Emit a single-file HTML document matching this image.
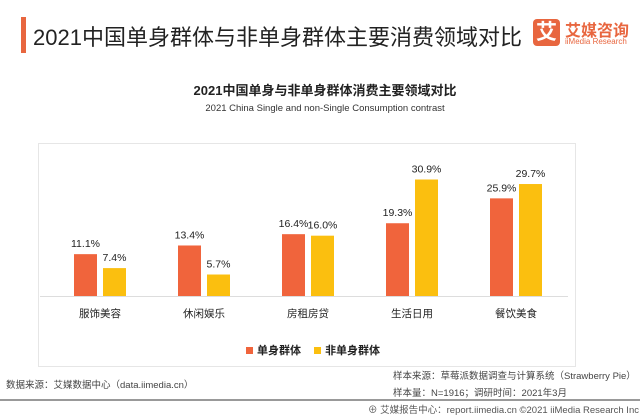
<!DOCTYPE html>
<html><head><meta charset="utf-8"><style>
body{margin:0;width:640px;height:415px;background:#fff;font-family:"Liberation Sans","Noto Sans CJK SC",sans-serif;position:relative;overflow:hidden}
.a{position:absolute;white-space:nowrap}
</style></head><body>
<div class="a" style="left:21px;top:17px;width:5px;height:36px;background:#e8663f"></div>
<div class="a" style="left:33px;top:20px;font-size:22px;color:#222">2021中国单身群体与非单身群体主要消费领域对比</div>
<div class="a" style="left:533px;top:19px;width:27px;height:27px;background:#e8663f;border-radius:4px;color:#fff;font-size:21px;line-height:27px;text-align:center;font-weight:bold">艾</div>
<div class="a" style="left:565px;top:17px;font-size:16px;color:#e8663f;font-weight:bold">艾媒咨询</div>
<div class="a" style="left:565px;top:37px;font-size:8px;color:#e8663f">iiMedia Research</div>
<div class="a" style="left:0;width:650px;text-align:center;top:80px;font-size:13px;font-weight:bold;color:#222">2021中国单身与非单身群体消费主要领域对比</div>
<div class="a" style="left:0;width:650px;text-align:center;top:103px;font-size:9.5px;color:#333">2021 China Single and non-Single Consumption contrast</div>
<div class="a" style="left:38px;top:143px;width:536px;height:222px;border:1px solid #e6e6e6"></div>
<svg class="a" id="chart" style="left:0;top:0" width="640" height="415"></svg>
<div class="a" style="left:246px;top:342px;font-size:11px;color:#222;font-weight:bold">
<span><span style="display:inline-block;width:7px;height:7px;background:#f0643c;margin-right:4px"></span>单身群体</span>
<span style="margin-left:10px"><span style="display:inline-block;width:7px;height:7px;background:#fbbf0f;margin-right:4px"></span>非单身群体</span></div>
<div class="a" style="left:6px;top:377px;font-size:9.5px;color:#444">数据来源：艾媒数据中心（data.iimedia.cn）</div>
<div class="a" style="left:393px;top:368px;font-size:9.5px;color:#444">样本来源：草莓派数据调查与计算系统（Strawberry Pie）</div>
<div class="a" style="left:393px;top:385px;font-size:9.5px;color:#444">样本量：N=1916；调研时间：2021年3月</div>
<div class="a" style="left:0;top:399px;width:640px;height:2px;background:#999"></div>
<div class="a" style="left:368px;top:402px;font-size:9.5px;color:#555">⊕ 艾媒报告中心：report.iimedia.cn ©2021 iiMedia Research Inc</div>
<script>
const categories=["服饰美容","休闲娱乐","房租房贷","生活日用","餐饮美食"];
const single=[11.1,13.4,16.4,19.3,25.9];
const nonSingle=[7.4,5.7,16.0,30.9,29.7];
const svg=document.getElementById('chart');
const NS='http://www.w3.org/2000/svg';
const base=296,scale=3.77,x0=100,step=104;
const y=v=>base-v*scale, xc=i=>x0+i*step;
function mk(t,a){const e=document.createElementNS(NS,t);for(const k in a)e.setAttribute(k,a[k]);svg.appendChild(e);return e;}
const ax=mk('line',{x1:40,x2:568,y1:base+0.5,y2:base+0.5,stroke:'#ddd'});


categories.forEach((c,i)=>{
 [[single,'#f0643c',-26,'single'],[nonSingle,'#fbbf0f',3,'non-single']].forEach(([arr,col,off,nm])=>{
  const v=arr[i];
  const r=mk('rect',{x:xc(i)+off,y:y(v),width:23,height:v*scale,fill:col});
  
  
  const t=mk('text',{x:xc(i)+off+11.5,y:y(v)-7,'text-anchor':'middle','font-size':'10.5',fill:'#222'});
  t.textContent=v.toFixed(1)+'%';
  
  
 });
 const l=mk('text',{x:xc(i),y:base+21,'text-anchor':'middle','font-size':'10.5',fill:'#222'});
 l.textContent=c;
 
 
});
</script>
</body></html>
